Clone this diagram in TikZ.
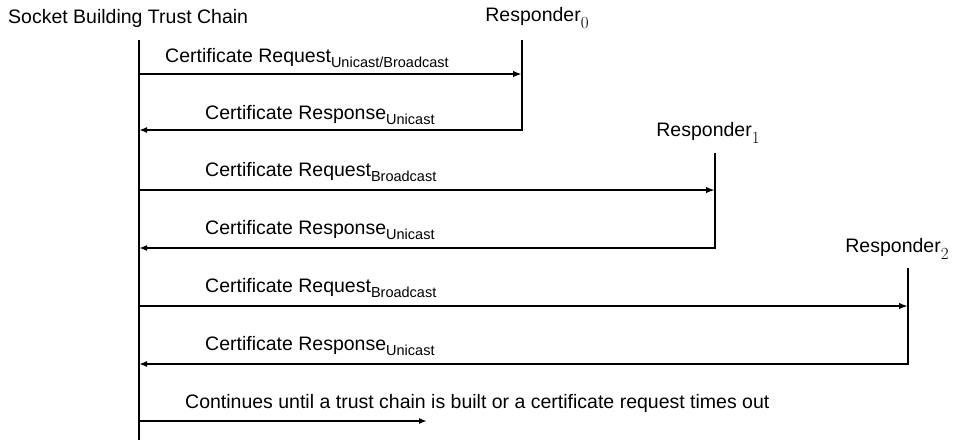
\documentclass[tikz,border=0pt]{standalone}
\usepackage{fontspec}
\setmainfont{Liberation Sans}
\newfontfamily\lmdigits{Latin Modern Roman}
\usetikzlibrary{arrows.meta}
\newcommand{\lsub}[1]{\raisebox{-0.4ex}{\fontsize{14.5}{15}\selectfont #1}}
\newcommand{\rsub}[1]{\raisebox{-0.6ex}{\lmdigits\fontsize{17}{17}\selectfont #1}}
\begin{document}
\begin{tikzpicture}[x=1pt,y=-1pt,
  lbl/.style={inner sep=0pt, anchor=west, font=\fontsize{19.5}{22}\selectfont},
  rlbl/.style={inner sep=0pt, anchor=center, font=\fontsize{19.5}{22}\selectfont},
  life/.style={line width=2.2pt},
  msg/.style={line width=1.8pt, -{Latex[length=9pt,width=6.5pt]}},
  reply/.style={line width=2.6pt, line join=miter, -{Latex[length=8pt,width=6pt]}},
]
\useasboundingbox (0,0) rectangle (964,440);
% participants
\node[lbl] (title) at (8,18) {Socket Building Trust Chain};
\node[rlbl] (resp0) at (537,18) {Responder\rsub{0}};
\node[rlbl] (resp1) at (708,133) {Responder\rsub{1}};
\node[rlbl] (resp2) at (897,249) {Responder\rsub{2}};
% lifelines
\coordinate (mtop) at (139,40);
\coordinate (mbot) at (139,440);
\coordinate (r0t) at (522,40);
\coordinate (r0b) at (522,130);
\coordinate (r1t) at (715,153);
\coordinate (r1b) at (715,248);
\coordinate (r2t) at (908,268);
\coordinate (r2b) at (908,364);
\draw[life] (mtop) -- (mbot);
% message end points
\coordinate (q0s) at (139,74);  \coordinate (q0e) at (522,74);
\coordinate (p0e) at (139,130);
\coordinate (q1s) at (139,190); \coordinate (q1e) at (715,190);
\coordinate (p1e) at (139,248);
\coordinate (q2s) at (139,306); \coordinate (q2e) at (908,306);
\coordinate (p2e) at (139,364);
\coordinate (cs) at (139,421);  \coordinate (ce) at (427,421);
% messages
\draw[msg] (q0s) -- (q0e);
\draw[reply] (r0t) -- (r0b) -- (p0e);
\draw[msg] (q1s) -- (q1e);
\draw[reply] (r1t) -- (r1b) -- (p1e);
\draw[msg] (q2s) -- (q2e);
\draw[reply] (r2t) -- (r2b) -- (p2e);
\draw[reply] (cs) -- (ce);
% labels
\node[lbl] (l0) at (165,58) {Certificate Request\lsub{Unicast/Broadcast}};
\node[lbl] (l1) at (205,115) {Certificate Response\lsub{Unicast}};
\node[lbl] (l2) at (205,172) {Certificate Request\lsub{Broadcast}};
\node[lbl] (l3) at (205,230) {Certificate Response\lsub{Unicast}};
\node[lbl] (l4) at (205,288) {Certificate Request\lsub{Broadcast}};
\node[lbl] (l5) at (205,346) {Certificate Response\lsub{Unicast}};
\node[lbl] (l6) at (185,403) {Continues until a trust chain is built or a certificate request times out};
\end{tikzpicture}
\end{document}
